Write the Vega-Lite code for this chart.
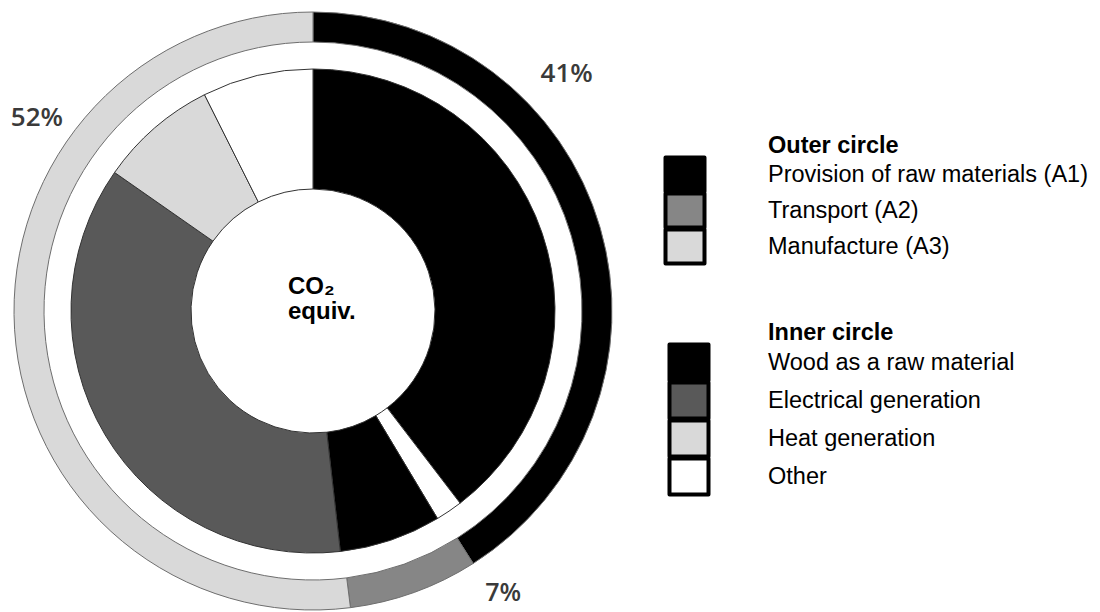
{
  "$schema": "https://vega.github.io/schema/vega-lite/v6.json",
  "width": 626,
  "height": 622,
  "autosize": {"type": "none"},
  "padding": {"left": 0, "top": 0, "right": 474, "bottom": -10},
  "background": "white",
  "config": {
    "view": {"stroke": null},
    "legend": {
      "orient": "none",
      "symbolStrokeColor": "#000000",
      "symbolStrokeWidth": 4,
      "symbolOpacity": 1,
      "labelFont": "Liberation Sans",
      "labelFontSize": 23.5,
      "labelColor": "#000000",
      "labelLimit": 500,
      "titleFont": "Liberation Sans",
      "titleFontSize": 23.5,
      "titleFontWeight": "bold",
      "titleColor": "#000000",
      "titlePadding": 0,
      "titleLimit": 500
    }
  },
  "datasets": {
    "outer": [
      {"stage": "Provision of raw materials (A1)", "share": 41, "seq": 1, "label": "41%"},
      {"stage": "Transport (A2)", "share": 7, "seq": 2, "label": "7%"},
      {"stage": "Manufacture (A3)", "share": 52, "seq": 3, "label": "52%"}
    ],
    "inner": [
      {"source": "Wood as a raw material", "share": 39.6, "seq": 1},
      {"source": "Other", "share": 1.8, "seq": 2},
      {"source": "Wood as a raw material", "share": 6.8, "seq": 3},
      {"source": "Electrical generation", "share": 36.5, "seq": 4},
      {"source": "Heat generation", "share": 7.9, "seq": 5},
      {"source": "Other", "share": 7.4, "seq": 6}
    ],
    "centre": [{"caption": ["CO₂", "equiv."]}]
  },
  "layer": [
    {
      "data": {"name": "outer"},
      "mark": {"type": "arc", "radius": 299, "radius2": 269, "stroke": "#6e6e6e", "strokeWidth": 1},
      "encoding": {
        "theta": {"field": "share", "type": "quantitative", "stack": true},
        "order": {"field": "seq", "type": "quantitative"},
        "color": {
          "field": "stage",
          "type": "nominal",
          "scale": {
            "domain": ["Provision of raw materials (A1)", "Transport (A2)", "Manufacture (A3)"],
            "range": ["#000000", "#868686", "#d9d9d9"]
          },
          "legend": {
            "title": "Outer circle",
            "legendX": 668,
            "legendY": 134,
            "symbolType": "M-1.3,-1.1333H1.3V1.1333H-1.3Z",
            "symbolSize": 900,
            "labelOffset": 66,
            "rowPadding": -10,
            "encode": {
              "title": {"update": {"dx": {"value": 100}}},
              "symbols": {"update": {"stroke": {"value": "#000000"}, "strokeWidth": {"value": 4}, "strokeJoin": {"value": "round"}}}
            }
          }
        }
      }
    },
    {
      "data": {"name": "inner"},
      "mark": {"type": "arc", "radius": 242, "radius2": 122, "stroke": "#333333", "strokeWidth": 1},
      "encoding": {
        "theta": {"field": "share", "type": "quantitative", "stack": true},
        "order": {"field": "seq", "type": "quantitative"},
        "color": {
          "field": "source",
          "type": "nominal",
          "scale": {
            "domain": ["Wood as a raw material", "Electrical generation", "Heat generation", "Other"],
            "range": ["#000000", "#595959", "#d9d9d9", "#ffffff"]
          },
          "legend": {
            "title": "Inner circle",
            "legendX": 671,
            "legendY": 321,
            "symbolType": "M-1.219,-1.125H1.219V1.125H-1.219Z",
            "symbolSize": 1024,
            "labelOffset": 61,
            "rowPadding": -10,
            "encode": {
              "title": {"update": {"dx": {"value": 97}}},
              "symbols": {"update": {"stroke": {"value": "#000000"}, "strokeWidth": {"value": 4}, "strokeJoin": {"value": "round"}}}
            }
          }
        }
      }
    },
    {
      "data": {"name": "outer"},
      "transform": [{"filter": "datum.label == '41%'"}],
      "mark": {"type": "text", "theta": 0.82, "radius": 347, "font": "Open Sans", "fontSize": 26, "fontWeight": 600, "color": "#3a3a3a", "align": "center", "baseline": "middle"},
      "encoding": {"text": {"field": "label"}}
    },
    {
      "data": {"name": "outer"},
      "transform": [{"filter": "datum.label == '7%'"}],
      "mark": {"type": "text", "theta": 2.548, "radius": 340, "font": "Open Sans", "fontSize": 25, "fontWeight": 600, "color": "#3a3a3a", "align": "center", "baseline": "middle"},
      "encoding": {"text": {"field": "label"}}
    },
    {
      "data": {"name": "outer"},
      "transform": [{"filter": "datum.label == '52%'"}],
      "mark": {"type": "text", "theta": 5.323, "radius": 337, "font": "Open Sans", "fontSize": 26, "fontWeight": 600, "color": "#3a3a3a", "align": "center", "baseline": "middle"},
      "encoding": {"text": {"field": "label"}}
    },
    {
      "data": {"name": "centre"},
      "mark": {"type": "text", "align": "left", "baseline": "middle", "dx": -25, "dy": -24, "font": "Liberation Sans", "fontWeight": "bold", "fontSize": 24, "lineHeight": 25, "color": "#000000"},
      "encoding": {"text": {"field": "caption"}}
    }
  ],
  "resolve": {"scale": {"color": "independent"}, "legend": {"color": "independent"}}
}
